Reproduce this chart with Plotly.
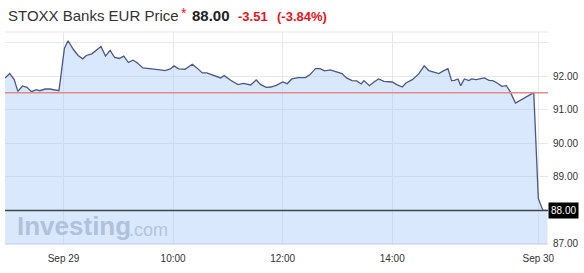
import plotly.graph_objects as go

# x positions: session minutes relative to Sep 29 08:00 (gapless intraday axis)
minutes = [-64, -59, -54, -50, -45, -40, -35, -30, -26, -20, -15, -9, -5,
           1, 5, 11, 16, 21, 25, 31, 35, 41, 46, 51, 56, 61, 66, 71, 76, 80, 87,
           94, 100, 106, 111, 117, 121, 126, 133, 141, 146, 152, 157, 162, 168,
           172, 176, 183, 191, 197, 205, 211, 216, 222, 227, 233, 240, 245, 250,
           257, 265, 270, 276, 281, 286, 292, 299, 305, 310, 316, 321, 326, 329,
           335, 340, 345, 351, 360, 365, 371, 375, 382, 389, 395, 400, 406, 411,
           416, 421, 425, 428, 432, 435, 439, 444, 447, 452, 457, 461, 466, 470,
           475, 480, 485, 489, 495, 502, 509, 515,
           520, 525, 530]
prices = [91.95, 92.08, 91.90, 91.55, 91.71, 91.67, 91.54, 91.60, 91.57, 91.62, 91.62, 91.60, 91.57,
          92.84, 93.06, 92.79, 92.62, 92.52, 92.62, 92.67, 92.75, 92.89, 92.60, 92.77, 92.56, 92.53, 92.60, 92.41, 92.48, 92.42, 92.25,
          92.22, 92.20, 92.19, 92.17, 92.22, 92.31, 92.22, 92.21, 92.36, 92.25, 92.10, 92.10, 92.05, 91.99,
          91.95, 92.02, 91.88, 91.75, 91.79, 91.74, 91.89, 91.75, 91.67, 91.68, 91.73, 91.83, 91.78, 91.92,
          91.96, 91.96, 92.05, 92.23, 92.23, 92.16, 92.19, 92.13, 92.08, 91.95, 91.87, 91.86, 91.77, 91.87,
          91.72, 91.83, 91.92, 91.85, 91.83, 91.75, 91.68, 91.80, 91.90, 92.07, 92.31, 92.17, 92.11, 92.08,
          92.16, 92.23, 91.87, 91.88, 91.92, 91.72, 91.92, 91.87, 91.92, 91.90, 91.93, 91.95, 91.88, 91.87,
          91.80, 91.70, 91.72, 91.55, 91.20, 91.30, 91.40, 91.51,
          88.36, 88.00, 88.00]
assert len(minutes) == len(prices)

x_tick_vals = [0, 120, 240, 360, 520]
x_tick_text = ["Sep 29", "10:00", "12:00", "14:00", "Sep 30"]
y_tick_vals = [87, 88, 89, 90, 91, 92, 93]
y_tick_text = ["87.00", "", "89.00", "90.00", "91.00", "92.00", ""]

prev_close = 91.51
last_price = 88.00
change = "-3.51"
change_pct = "(-3.84%)"
title = "STOXX Banks EUR Price"

FONT = "Liberation Sans, Arial, sans-serif"
RED = "#e8141c"

fig = go.Figure()
fig.add_trace(go.Scatter(
    x=minutes, y=prices, mode="lines",
    line=dict(color="#4b5785", width=1.3),
    fill="tozeroy", fillcolor="rgba(170,205,250,0.45)",
    hoverinfo="skip", showlegend=False,
))

fig.add_shape(type="line", xref="paper", x0=0, x1=1, yref="y", y0=prev_close, y1=prev_close,
              line=dict(color="#e38b8b", width=1.5), layer="above")
fig.add_shape(type="line", xref="paper", x0=0, x1=1, yref="y", y0=last_price, y1=last_price,
              line=dict(color="#3e4848", width=1.5), layer="above")
fig.add_shape(type="line", xref="paper", x0=0, x1=1, yref="paper", y0=1, y1=1,
              line=dict(color="#e6e6e6", width=1), layer="below")

PX0, PXW = 5.0, 542.7
PT, PH = 32.0, 213.0
def px(x):
    return (x - PX0) / PXW
def py(y):
    return (PT + PH - y) / PH

anns = [
    dict(text=title, x=px(6), y=py(15.5), font=dict(size=15, color="#333333", family=FONT)),
    dict(text="*", x=px(179), y=py(13), font=dict(size=14, color=RED, family=FONT)),
    dict(text="<b>%.2f</b>" % last_price, x=px(190), y=py(15.5), font=dict(size=15, color="#222222", family=FONT)),
    dict(text="<b>%s</b>" % change, x=px(236), y=py(16), font=dict(size=13, color=RED, family=FONT)),
    dict(text="<b>%s</b>" % change_pct, x=px(275), y=py(16), font=dict(size=13, color=RED, family=FONT)),
    dict(text="<b>Investing</b>", x=px(15), y=py(226), font=dict(size=26, color="rgba(140,160,190,0.55)", family=FONT)),
    dict(text=".com", x=px(127), y=py(230), font=dict(size=18, color="rgba(140,160,190,0.5)", family=FONT)),
]
for a in anns:
    fig.add_annotation(xref="paper", yref="paper", xanchor="left", yanchor="middle",
                       showarrow=False, **a)

fig.add_annotation(xref="paper", yref="y", x=1, y=last_price, xanchor="left", yanchor="middle",
                   text="%.2f" % last_price, showarrow=False, bgcolor="#000000",
                   font=dict(size=10, color="#ffffff", family=FONT), borderpad=2)

fig.update_layout(
    width=584, height=273,
    margin=dict(l=5, r=36, t=32, b=28),
    paper_bgcolor="#ffffff", plot_bgcolor="#ffffff",
    xaxis=dict(range=[-64.1, 530.6], tickvals=x_tick_vals, ticktext=x_tick_text,
               showgrid=True, gridcolor="#e4e7ec", gridwidth=1, zeroline=False,
               showline=False, ticks="", ticklabelstandoff=6,
               tickfont=dict(size=10, color="#333333", family=FONT)),
    yaxis=dict(range=[86.97, 93.32], side="right", tickvals=y_tick_vals, ticktext=y_tick_text,
               showgrid=True, gridcolor="#e4e7ec", gridwidth=1, zeroline=False,
               showline=False, ticks="", ticklabelstandoff=4,
               tickfont=dict(size=10, color="#333333", family=FONT)),
)

fig.write_html("out.html")
